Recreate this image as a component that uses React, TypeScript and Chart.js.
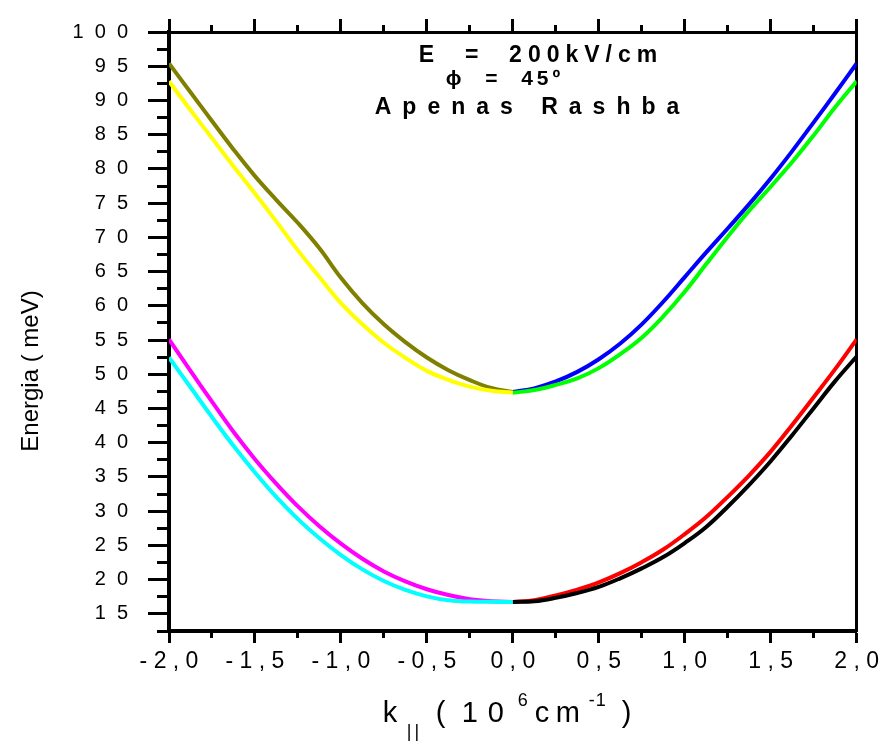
import React, { useEffect, useRef } from 'react';
import { Chart, registerables } from 'chart.js';

Chart.register(...registerables);

const FONT = "'Liberation Sans', Arial, sans-serif";

// k values (10^6 cm^-1)
const kLeft = [-2, -1.875, -1.75, -1.625, -1.5, -1.375, -1.25, -1.125, -1, -0.875, -0.75, -0.625, -0.5, -0.375, -0.25, -0.125, 0];
const kRight = [0, 0.125, 0.25, 0.375, 0.5, 0.625, 0.75, 0.875, 1, 1.125, 1.25, 1.375, 1.5, 1.625, 1.75, 1.875, 2];

// Energies (meV)
const oliveLeft = [95.4, 91.2, 87.0, 82.85, 78.95, 75.45, 72.1, 68.4, 64.1, 60.4, 57.3, 54.7, 52.45, 50.6, 49.15, 48.0, 47.4];
const yellowLeft = [92.8, 88.6, 84.5, 80.4, 76.4, 72.3, 68.1, 64.2, 60.4, 57.3, 54.6, 52.4, 50.5, 49.2, 48.2, 47.6, 47.3];
const blueRight = [47.4, 47.95, 48.95, 50.35, 52.2, 54.5, 57.3, 60.6, 64.2, 67.8, 71.3, 74.85, 78.6, 82.6, 86.8, 91.05, 95.4];
const greenRight = [47.3, 47.7, 48.45, 49.4, 50.9, 52.95, 55.35, 58.45, 62.05, 66.1, 70.1, 73.9, 77.4, 81.0, 84.9, 89.0, 92.8];
const magentaLeft = [55.1, 50.5, 46.0, 41.6, 37.6, 34.0, 30.7, 27.8, 25.25, 23.05, 21.2, 19.75, 18.6, 17.75, 17.15, 16.85, 16.75];
const cyanLeft = [52.45, 48.1, 43.75, 39.55, 35.65, 32.05, 28.85, 26.05, 23.6, 21.5, 19.8, 18.5, 17.55, 16.98, 16.8, 16.76, 16.75];
const redRight = [16.75, 17.0, 17.7, 18.55, 19.6, 20.95, 22.55, 24.4, 26.65, 29.15, 32.1, 35.25, 38.7, 42.6, 46.65, 50.75, 55.1];
const blackRight = [16.75, 16.85, 17.35, 18.05, 18.95, 20.2, 21.65, 23.3, 25.35, 27.7, 30.65, 33.85, 37.3, 41.1, 45.05, 49.0, 52.6];

const xTickLabels = ['-2,0', '-1,5', '-1,0', '-0,5', '0,0', '0,5', '1,0', '1,5', '2,0'];
const yTickLabels = ['15', '20', '25', '30', '35', '40', '45', '50', '55', '60', '65', '70', '75', '80', '85', '90', '95', '100'];

const yTitle = 'Energia ( meV)';
const annotationLines = ['E  =  200kV/cm', '\u03D5  =  45\u00BA', 'Apenas Rashba'];

const pts = (xs: number[], ys: number[]) => xs.map((x, i) => ({ x, y: ys[i] }));

const isMult = (v: number, step: number) => Math.abs(v / step - Math.round(v / step)) < 1e-6;

function drawSpaced(ctx: any, text: string, cx: number, baseline: number, font: string, ls: number) {
  ctx.font = font;
  ctx.letterSpacing = ls + 'px';
  const w = ctx.measureText(text).width - ls;
  ctx.textAlign = 'left';
  ctx.textBaseline = 'alphabetic';
  ctx.fillText(text, cx - w / 2, baseline);
  ctx.letterSpacing = '0px';
}

const textPlugin = {
  id: 'texts',
  afterDraw(chart: any) {
    const { ctx, chartArea } = chart;
    const cx = (chartArea.left + chartArea.right) / 2;
    ctx.save();
    ctx.fillStyle = '#000';

    // y title
    ctx.save();
    ctx.translate(38, 371);
    ctx.rotate(-Math.PI / 2);
    ctx.font = `24px ${FONT}`;
    ctx.textAlign = 'center';
    ctx.textBaseline = 'alphabetic';
    ctx.fillText(yTitle, 0, 0);
    ctx.restore();

    // x title: k|| ( 10^6 cm^-1 )
    const main = `29px ${FONT}`;
    const small = `18px ${FONT}`;
    const base = 722;
    const parts: [string, number, string, number][] = [
      ['k', -130, main, base],
      ['||', -106, small, base + 15],
      ['(', -77, main, base],
      ['1', -51, main, base],
      ['0', -25, main, base],
      ['6', 5, small, base - 16],
      ['c', 22, main, base],
      ['m', 43, main, base],
      ['-1', 76, small, base - 16],
      [')', 109, main, base],
    ];
    ctx.textAlign = 'left';
    ctx.textBaseline = 'alphabetic';
    for (const [t, dx, f, y] of parts) {
      ctx.font = f;
      ctx.letterSpacing = t === '||' ? '3px' : '1px';
      ctx.fillText(t, cx + dx, y);
    }
    ctx.letterSpacing = '0px';

    // annotation
    drawSpaced(ctx, annotationLines[0], 538, 62, `bold 23px ${FONT}`, 6);
    drawSpaced(ctx, annotationLines[1], 503, 85, `bold 21px ${FONT}, 'DejaVu Sans'`, 4);
    drawSpaced(ctx, annotationLines[2], 527, 114, `bold 23px ${FONT}`, 11);

    ctx.restore();
  },
};

export default function App() {
  const ref = useRef<HTMLCanvasElement | null>(null);

  useEffect(() => {
    if (!ref.current) return;
    Chart.defaults.font.family = FONT;
    Chart.defaults.color = '#000';

    const ds = (label: string, xs: number[], ys: number[], color: string) => ({
      label,
      data: pts(xs, ys),
      borderColor: color,
      backgroundColor: color,
      borderWidth: 4,
      pointRadius: 0,
      fill: false,
      tension: 0.4,
    });

    const chart = new Chart(ref.current, {
      type: 'line',
      data: {
        datasets: [
          ds('upper-left-inner', kLeft, yellowLeft, '#FFFF00'),
          ds('upper-left-outer', kLeft, oliveLeft, '#808000'),
          ds('upper-right-inner', kRight, greenRight, '#00FF00'),
          ds('upper-right-outer', kRight, blueRight, '#0000FF'),
          ds('lower-left-inner', kLeft, cyanLeft, '#00FFFF'),
          ds('lower-left-outer', kLeft, magentaLeft, '#FF00FF'),
          ds('lower-right-inner', kRight, blackRight, '#000000'),
          ds('lower-right-outer', kRight, redRight, '#FF0000'),
        ],
      },
      options: {
        responsive: false,
        animation: false,
        devicePixelRatio: 1,
        layout: { padding: 0 },
        plugins: { legend: { display: false }, tooltip: { enabled: false } },
        scales: {
          x: {
            type: 'linear',
            position: 'bottom',
            min: -2,
            max: 2,
            ticks: {
              stepSize: 0.25,
              autoSkip: false,
              maxRotation: 0,
              padding: 5,
              font: { size: 23, family: FONT },
              color: '#000',
              callback: (v: any) => {
                const n = Number(v);
                if (!isMult(n, 0.5)) return '';
                const i = Math.round((n + 2) / 0.5);
                return xTickLabels[i].split('').join(' ');
              },
            },
            grid: {
              drawOnChartArea: false,
              drawTicks: true,
              tickLength: 12,
              tickWidth: 3,
              tickColor: '#000',
              tickBorderDash: (c: any) => (c.tick && isMult(c.tick.value, 0.5) ? [] : [5, 100]),
            },
            border: { display: true, color: '#000', width: 4 },
            afterFit: (s: any) => { s.height = 111; },
          },
          x2: {
            type: 'linear',
            position: 'top',
            min: -2,
            max: 2,
            ticks: { stepSize: 0.25, autoSkip: false, display: false },
            grid: {
              drawOnChartArea: false,
              drawTicks: true,
              tickLength: 13,
              tickWidth: 3,
              tickColor: '#000',
              tickBorderDash: (c: any) => (c.tick && isMult(c.tick.value, 0.5) ? [] : [0, 6, 100, 0]),
            },
            border: { display: true, color: '#000', width: 3 },
            afterFit: (s: any) => { s.height = 25; },
          },
          y: {
            type: 'linear',
            position: 'left',
            min: 12.5,
            max: 100,
            ticks: {
              stepSize: 2.5,
              autoSkip: false,
              padding: 20,
              font: { size: 20, family: FONT },
              color: '#000',
              callback: (v: any) => {
                const n = Number(v);
                if (!isMult(n, 5)) return '';
                const i = Math.round(n / 5) - 3;
                return yTickLabels[i] ? yTickLabels[i].split('').join('  ') : '';
              },
            },
            grid: {
              drawOnChartArea: false,
              drawTicks: true,
              tickLength: 21,
              tickWidth: 3,
              tickColor: '#000',
              tickBorderDash: (c: any) => (c.tick && isMult(c.tick.value, 5) ? [] : [0, 9, 100, 0]),
            },
            border: { display: true, color: '#000', width: 4 },
            afterFit: (s: any) => { s.width = 169; },
          },
          y2: {
            type: 'linear',
            position: 'right',
            min: 12.5,
            max: 100,
            ticks: { display: false },
            grid: { drawOnChartArea: false, drawTicks: false },
            border: { display: true, color: '#000', width: 3 },
            afterFit: (s: any) => { s.width = 23; },
          },
        },
      },
      plugins: [textPlugin],
    } as any);

    return () => chart.destroy();
  }, []);

  return (
    <div style={{ position: 'fixed', left: 0, top: 0, width: 884, height: 742, background: '#fff' }}>
      <canvas ref={ref} width={884} height={742} style={{ width: 884, height: 742, display: 'block' }} />
    </div>
  );
}
